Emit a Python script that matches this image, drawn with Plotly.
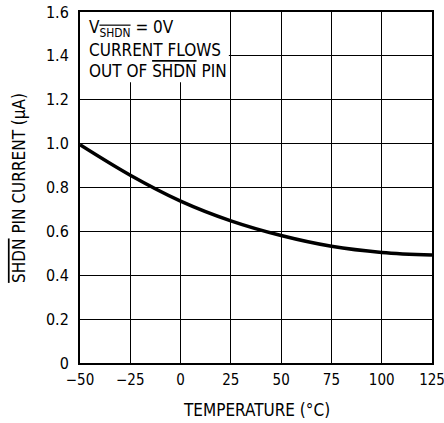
import plotly.graph_objects as go

temperature_c = [-50, -25, 0, 25, 50, 75, 100, 125]
shdn_current_ua = [0.995, 0.856, 0.738, 0.648, 0.581, 0.532, 0.504, 0.492]

x_tick_vals = [-50, -25, 0, 25, 50, 75, 100, 125]
x_tick_text = ["\u221250", "\u221225", "0", "25", "50", "75", "100", "125"]
y_tick_vals = [0, 0.2, 0.4, 0.6, 0.8, 1.0, 1.2, 1.4, 1.6]
y_tick_text = ["0", "0.2", "0.4", "0.6", "0.8", "1.0", "1.2", "1.4", "1.6"]

FONT = "DejaVu Sans Condensed"
OL = '<span style="text-decoration:overline">SHDN</span>'

fig = go.Figure()
fig.add_trace(go.Scatter(
    x=temperature_c, y=shdn_current_ua, mode="lines",
    line=dict(color="black", width=3.5, shape="spline", smoothing=1.0),
    hoverinfo="skip", showlegend=False,
))

fig.add_shape(type="rect", xref="x", yref="y", x0=-50, x1=24, y0=1.28, y1=1.6,
              fillcolor="white", line=dict(width=0), layer="between")

notes = [
    (1.527, "V<sub>" + OL + "</sub> = 0V"),
    (1.427, "CURRENT FLOWS"),
    (1.331, "OUT OF " + OL + " PIN"),
]
for yv, txt in notes:
    fig.add_annotation(x=-46.5, y=yv, xref="x", yref="y", text=txt, showarrow=False,
                       xanchor="left", yanchor="middle",
                       font=dict(family=FONT, size=17, color="black"))

# axis titles (plot area x 80..432, y 12..363)
fig.add_annotation(x=0.5, y=-0.134, xref="paper", yref="paper",
                   text="TEMPERATURE (\u00b0C)", showarrow=False,
                   xanchor="center", yanchor="middle",
                   font=dict(family=FONT, size=17, color="black"))
fig.add_annotation(x=-0.175, y=0.5, xref="paper", yref="paper",
                   text=OL + " PIN CURRENT (\u03bcA)", showarrow=False, textangle=-90,
                   xanchor="center", yanchor="middle",
                   font=dict(family=FONT, size=17, color="black"))

fig.update_layout(
    width=444, height=423,
    margin=dict(l=80, r=12, t=12, b=60, autoexpand=False),
    paper_bgcolor="white", plot_bgcolor="white",
    font=dict(family=FONT, size=16, color="black"),
)
fig.update_xaxes(
    range=[-50, 125], tickvals=x_tick_vals, ticktext=x_tick_text,
    showgrid=True, gridcolor="black", gridwidth=1,
    showline=True, linecolor="black", linewidth=2, mirror=True,
    ticks="", zeroline=False, automargin=False, ticklabelstandoff=2,
    ticklabeloverflow="allow",
    tickfont=dict(family=FONT, size=15),
)
fig.update_yaxes(
    range=[0, 1.6], tickvals=y_tick_vals, ticktext=y_tick_text,
    showgrid=True, gridcolor="black", gridwidth=1,
    showline=True, linecolor="black", linewidth=2, mirror=True,
    ticks="", zeroline=False, automargin=False, ticklabelstandoff=6,
    ticklabeloverflow="allow",
    tickfont=dict(family=FONT, size=16),
)

fig.write_html(
    "out.html",
    config={"displayModeBar": False},
    post_script="document.body.style.margin='0';document.body.style.overflow='hidden';",
)
